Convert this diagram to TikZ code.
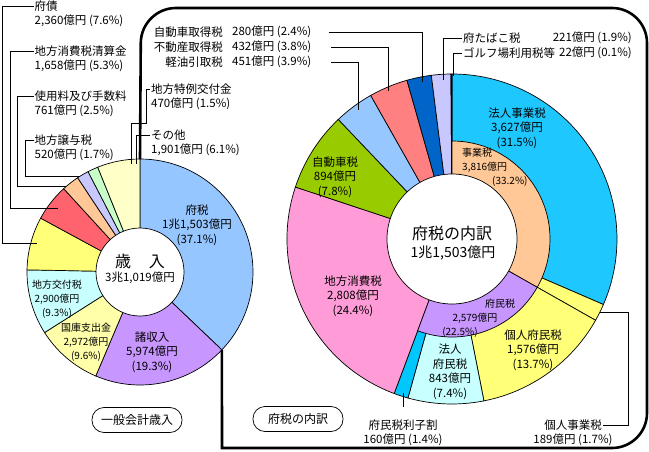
\documentclass[tikz,border=0pt]{standalone}
\usepackage{fontspec}
\setmainfont{Noto Sans CJK JP}
\usepackage{tikz}

\definecolor{cFuzei}{RGB}{150,198,255}
\definecolor{cShoshu}{RGB}{200,150,255}
\definecolor{cKokko}{RGB}{255,255,170}
\definecolor{cKofu}{RGB}{200,255,255}
\definecolor{cFusai}{RGB}{255,255,120}
\definecolor{cSeisan}{RGB}{255,100,110}
\definecolor{cShiyo}{RGB}{255,200,150}
\definecolor{cJoyo}{RGB}{200,200,255}
\definecolor{cTokurei}{RGB}{200,255,200}
\definecolor{cSonota}{RGB}{255,255,200}
\definecolor{cHojinJigyo}{RGB}{30,200,255}
\definecolor{cJigyo}{RGB}{255,200,150}
\definecolor{cKojin}{RGB}{255,255,120}
\definecolor{cFumin}{RGB}{200,150,255}
\definecolor{cHojinFumin}{RGB}{200,255,255}
\definecolor{cRishi}{RGB}{0,200,255}
\definecolor{cShohi}{RGB}{255,155,215}
\definecolor{cJidosha}{RGB}{153,204,0}
\definecolor{cKeiyu}{RGB}{150,200,255}
\definecolor{cFudosan}{RGB}{255,128,128}
\definecolor{cJidoshu}{RGB}{0,100,200}
\definecolor{cTabako}{RGB}{200,200,255}
\definecolor{cGolf}{RGB}{0,0,128}

\begin{document}
\begin{tikzpicture}[x=1pt, y=1pt,
    lbl/.style={inner sep=1pt, font=\fontsize{11.5}{14.5}\selectfont},
    sml/.style={inner sep=1pt, font=\fontsize{10}{14}\selectfont},
    slice/.style={draw=black, line width=0.7pt},
    lead/.style={draw=black, line width=0.8pt},
    frame/.style={draw=black, line width=2.6pt},
    bubble/.style={draw, line width=0.7pt, rounded corners=12pt, minimum width=90pt, minimum height=25pt, inner sep=0pt, font=\fontsize{12}{14}\selectfont}]
    \useasboundingbox (0,0) rectangle (649,-452);
    \coordinate (lc) at (140,-272);
    \coordinate (rc) at (452,-239);

    \filldraw[slice, fill=cFuzei] (lc) -- ++(90:113) arc[start angle=90, end angle=-43.56, radius=113] -- cycle;
    \filldraw[slice, fill=cShoshu] (lc) -- ++(-43.56:113) arc[start angle=-43.56, end angle=-113.04, radius=113] -- cycle;
    \filldraw[slice, fill=cKokko] (lc) -- ++(-113.04:113) arc[start angle=-113.04, end angle=-147.6, radius=113] -- cycle;
    \filldraw[slice, fill=cKofu] (lc) -- ++(-147.6:113) arc[start angle=-147.6, end angle=-181.08, radius=113] -- cycle;
    \filldraw[slice, fill=cFusai] (lc) -- ++(-181.08:113) arc[start angle=-181.08, end angle=-208.44, radius=113] -- cycle;
    \filldraw[slice, fill=cSeisan] (lc) -- ++(-208.44:113) arc[start angle=-208.44, end angle=-227.52, radius=113] -- cycle;
    \filldraw[slice, fill=cShiyo] (lc) -- ++(-227.52:113) arc[start angle=-227.52, end angle=-236.52, radius=113] -- cycle;
    \filldraw[slice, fill=cJoyo] (lc) -- ++(-236.52:113) arc[start angle=-236.52, end angle=-242.64, radius=113] -- cycle;
    \filldraw[slice, fill=cTokurei] (lc) -- ++(-242.64:113) arc[start angle=-242.64, end angle=-248.04, radius=113] -- cycle;
    \filldraw[slice, fill=cSonota] (lc) -- ++(-248.04:113) arc[start angle=-248.04, end angle=-270, radius=113] -- cycle;
    \filldraw[slice, fill=white] (lc) circle[radius=44];

    \filldraw[slice, fill=cHojinJigyo] (rc) -- ++(90:165) arc[start angle=90, end angle=-23.4, radius=165] -- cycle;
    \filldraw[slice, fill=cKojin] (rc) -- ++(-23.4:165) arc[start angle=-23.4, end angle=-29.52, radius=165] -- cycle;
    \filldraw[slice, fill=cKojin] (rc) -- ++(-29.52:165) arc[start angle=-29.52, end angle=-78.84, radius=165] -- cycle;
    \filldraw[slice, fill=cHojinFumin] (rc) -- ++(-78.84:165) arc[start angle=-78.84, end angle=-105.48, radius=165] -- cycle;
    \filldraw[slice, fill=cRishi] (rc) -- ++(-105.48:165) arc[start angle=-105.48, end angle=-110.52, radius=165] -- cycle;
    \filldraw[slice, fill=cShohi] (rc) -- ++(-110.52:165) arc[start angle=-110.52, end angle=-198.36, radius=165] -- cycle;
    \filldraw[slice, fill=cJidosha] (rc) -- ++(-198.36:165) arc[start angle=-198.36, end angle=-226.44, radius=165] -- cycle;
    \filldraw[slice, fill=cKeiyu] (rc) -- ++(-226.44:165) arc[start angle=-226.44, end angle=-240.48, radius=165] -- cycle;
    \filldraw[slice, fill=cFudosan] (rc) -- ++(-240.48:165) arc[start angle=-240.48, end angle=-254.16, radius=165] -- cycle;
    \filldraw[slice, fill=cJidoshu] (rc) -- ++(-254.16:165) arc[start angle=-254.16, end angle=-262.8, radius=165] -- cycle;
    \filldraw[slice, fill=cTabako] (rc) -- ++(-262.8:165) arc[start angle=-262.8, end angle=-269.64, radius=165] -- cycle;
    \filldraw[slice, fill=cGolf] (rc) -- ++(-269.64:165) arc[start angle=-269.64, end angle=-270, radius=165] -- cycle;
    \filldraw[slice, fill=cJigyo] (rc) -- ++(90:98) arc[start angle=90, end angle=-29.52, radius=98] -- cycle;
    \filldraw[slice, fill=cFumin] (rc) -- ++(-29.52:98) arc[start angle=-29.52, end angle=-110.52, radius=98] -- cycle;
    \filldraw[slice, fill=white] (rc) circle[radius=65];

    \coordinate (lt) at ([shift={(lc)}]90:113);
    \coordinate (lb) at ([shift={(lc)}]-43.56:113);
    \draw[frame] (lt) [rounded corners=35pt] -- (141,-8) -- (647,-8) -- (647,-448) -- (300,-448) [sharp corners] -- (222,-448) -- (lb);

    \node[lbl, align=center] (fuzei) at (197,-225) {府税\\1兆1,503億円\\(37.1\%)};
    \node[lbl, align=center] (shoshu) at (152,-352) {諸収入\\5,974億円\\(19.3\%)};
    \node[sml, align=center] (kokko) at (86,-342) {国庫支出金\\2,972億円\\(9.6\%)};
    \node[sml, align=center] (kofu) at (57,-299) {地方交付税\\2,900億円\\(9.3\%)};
    \node[inner sep=1pt, font=\fontsize{16}{16}\selectfont] (sainyu) at (140,-261) {歳\hspace{1.1em}入};
    \node[lbl] (sainyu-v) at (140,-278) {3兆1,019億円};

    \node[lbl, anchor=west] (fusai) at (33.5,-6) {府債};
    \node[lbl, anchor=west] (fusai-v) at (33.5,-21) {2,360億円 (7.6\%)};
    \node[lbl, anchor=west] (seisan) at (33.5,-51) {地方消費税清算金};
    \node[lbl, anchor=west] (seisan-v) at (33.5,-66) {1,658億円 (5.3\%)};
    \node[lbl, anchor=west] (shiyo) at (33.5,-96) {使用料及び手数料};
    \node[lbl, anchor=west] (shiyo-v) at (33.5,-111) {761億円 (2.5\%)};
    \node[lbl, anchor=west] (joyo) at (33.5,-140) {地方譲与税};
    \node[lbl, anchor=west] (joyo-v) at (33.5,-155) {520億円 (1.7\%)};
    \node[lbl, anchor=west] (tokurei) at (150,-89) {地方特例交付金};
    \node[lbl, anchor=west] (tokurei-v) at (150,-104) {470億円 (1.5\%)};
    \node[lbl, anchor=west] (sonota) at (150,-135) {その他};
    \node[lbl, anchor=west] (sonota-v) at (150,-150) {1,901億円 (6.1\%)};

    \coordinate (fusai-e) at (37,-243);
    \coordinate (seisan-e) at (58,-208);
    \coordinate (shiyo-e) at (66,-186);
    \coordinate (joyo-e) at (80,-176);
    \coordinate (tokurei-e) at (131,-164);
    \coordinate (sonota-e) at (136,-164);
    \draw[lead] (fusai.west) -- ++(-31,0) |- (fusai-e);
    \draw[lead] (seisan.west) -- ++(-23,0) |- (seisan-e);
    \draw[lead] (shiyo.west) -- ++(-16,0) |- (shiyo-e);
    \draw[lead] (joyo.west) -- ++(-8,0) |- (joyo-e);
    \draw[lead] (tokurei.west) -- ++(-4,0) -- ++(0,-34) -| (tokurei-e);
    \draw[lead] (sonota.west) -| (sonota-e);

    \node[font=\fontsize{16}{16}\selectfont, inner sep=1pt] (naiyaku) at (452,-233) {府税の内訳};
    \node[font=\fontsize{14}{14}\selectfont, inner sep=1pt] (naiyaku-v) at (453,-253) {1兆1,503億円};
    \node[lbl, align=center] (hojinjigyo) at (517,-128) {法人事業税\\3,627億円\\(31.5\%)};
    \node[sml, align=left, anchor=west] (jigyo) at (461,-167) {事業税\\3,816億円\\\hspace{30pt}(33.2\%)};
    \node[sml] (fuminzei) at (500,-304) {府民税};
    \node[sml] (fuminzei-v) at (475,-318) {2,579億円};
    \node[sml] (fuminzei-p) at (460,-332) {(22.5\%)};
    \node[lbl, align=center] (kojinfumin) at (533,-350) {個人府民税\\1,576億円\\(13.7\%)};
    \node[lbl, align=center] (hojinfumin) at (450,-372) {法人\\府民税\\843億円\\(7.4\%)};
    \node[lbl, align=center] (jidosha) at (335,-177) {自動車税\\894億円\\(7.8\%)};
    \node[lbl, align=center] (shohi) at (353,-296) {地方消費税\\2,808億円\\(24.4\%)};

    \node[lbl, anchor=east] (jidoshu) at (224,-32) {自動車取得税};
    \node[lbl, anchor=west] (jidoshu-v) at (231,-32) {280億円 (2.4\%)};
    \node[lbl, anchor=east] (fudosan) at (224,-47) {不動産取得税};
    \node[lbl, anchor=west] (fudosan-v) at (231,-47) {432億円 (3.8\%)};
    \node[lbl, anchor=east] (keiyu) at (224,-62) {軽油引取税};
    \node[lbl, anchor=west] (keiyu-v) at (231,-62) {451億円 (3.9\%)};
    \node[lbl, anchor=west] (tabako) at (462,-38) {府たばこ税};
    \node[lbl, anchor=east] (tabako-v) at (633,-38) {221億円 (1.9\%)};
    \node[lbl, anchor=west] (golf) at (462,-53) {ゴルフ場利用税等};
    \node[lbl, anchor=east] (golf-v) at (633,-53) {22億円 (0.1\%)};
    \node[lbl] (rishi) at (403,-425) {府民税利子割};
    \node[lbl] (rishi-v) at (403,-440) {160億円 (1.4\%)};
    \node[lbl] (kojinjigyo) at (573,-425) {個人事業税};
    \node[lbl] (kojinjigyo-v) at (573,-440) {189億円 (1.7\%)};

    \coordinate (jidoshu-e) at (422,-82);
    \coordinate (fudosan-e) at (388,-91);
    \coordinate (keiyu-e) at (358,-110);
    \coordinate (tabako-e) at (443,-80);
    \coordinate (golf-e) at (453,-76);
    \coordinate (rishi-e) at (403,-393);
    \coordinate (rishi-t) at (403,-407);
    \coordinate (kojinjigyo-e) at (600,-312);
    \draw[lead] ([xshift=17pt]jidoshu-v.east) -| (jidoshu-e);
    \draw[lead] ([xshift=19pt]fudosan-v.east) -| (fudosan-e);
    \draw[lead] ([xshift=19pt]keiyu-v.east) -| (keiyu-e);
    \draw[lead] (tabako.west) -| (tabako-e);
    \draw[lead] (golf.west) -| (golf-e);
    \draw[lead] (rishi-e) -- (rishi-t);
    \draw[lead] (kojinjigyo.east) -- ++(25,0) |- (kojinjigyo-e);

    \node[bubble] (ippan) at (137,-420) {一般会計歳入};
    \node[bubble] (uchiwake) at (298,-419) {府税の内訳};
\end{tikzpicture}
\end{document}
